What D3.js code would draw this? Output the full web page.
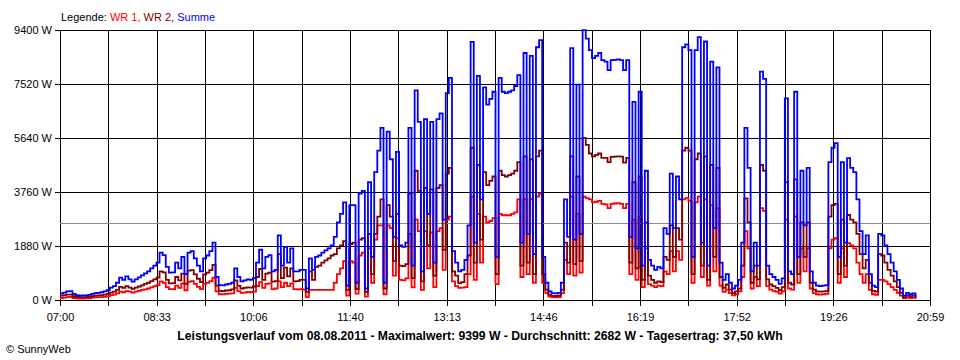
<!DOCTYPE html>
<html><head><meta charset="utf-8">
<script src="https://cdn.jsdelivr.net/npm/d3@7"></script>
<style>
body{margin:0;background:#fff}
svg{display:block}
text{font-family:"Liberation Sans",Arial,sans-serif;fill:#000}
</style>
</head><body>
<svg id="chart" width="960" height="360"></svg>
<script>
// ---- data ----
const timeLabels = ["07:00","08:33","10:06","11:40","13:13","14:46","16:19","17:52","19:26","20:59"];
const yTickValues = [0,1880,3760,5640,7520,9400];
const averageW = 2682;
const sampleStepMin = 3; // one value every 3 minutes starting 07:00
const titleText = "Leistungsverlauf vom 08.08.2011 - Maximalwert: 9399 W - Durchschnitt: 2682 W - Tagesertrag: 37,50 kWh";

const summe = [
230,260,300,310,210,170,150,160,160,180,210,240,250,270,300,340,
430,480,600,780,700,820,720,640,720,790,860,930,1000,1100,1200,1300,
1650,1560,1150,950,960,1300,1100,1500,900,1650,1700,1450,1200,1000,1450,1550,1700,2000,800,
520,510,540,560,600,1100,800,650,680,720,700,760,
1300,1750,1100,1500,1560,1000,1050,2250,1200,1850,1300,1800,1000,1000,1050,1050,400,
1450,1050,1500,1550,1650,1730,1800,1900,2200,2700,3000,3400,500,3300,
3300,600,3700,3800,400,4100,1500,4450,5200,5990,600,5860,4900,2200,5160,1900,1850,2000,
5990,1200,7300,6200,1000,6300,3000,6200,1300,6300,6500,2800,7200,7730,1700,1300,1000,1050,
1400,2600,8990,2000,7800,3500,7400,6800,7000,7250,1500,7730,
7250,7200,7250,7300,7450,7830,2000,8600,2300,8500,1600,8800,9050,1500,600,300,240,230,250,600,
3500,2200,8770,2100,7500,2300,9399,9100,8700,8420,8500,8600,8350,8300,8000,8350,8360,8380,8350,8000,
8350,2200,6900,1800,7250,1200,4500,1400,
1200,1050,1150,1100,2500,2300,4400,2500,4300,3500,8800,8900,8700,1500,8700,9150,2000,9000,1200,8300,
2500,8100,1300,700,900,600,400,500,700,2000,5990,4600,1000,2000,1200,7950,7700,1200,900,800,
700,560,750,7020,1000,900,7250,1500,
4500,2600,4600,1000,600,500,480,500,520,4800,5300,5460,1500,4800,2000,4940,4600,4450,3500,2400,
1600,2250,900,500,450,2300,2250,1900,1600,1300,1000,700,400,150,250,200,230,100
];

const wr2 = [
150,170,190,190,130,110,100,100,100,110,130,150,160,170,190,210,
260,290,350,460,420,480,430,390,430,470,510,560,600,660,720,780,
1000,960,700,580,590,800,680,920,560,1020,1040,890,740,620,890,950,1040,1220,500,
320,310,330,340,370,680,490,400,420,440,430,470,
800,1080,700,920,950,640,660,1600,760,1130,820,1100,650,660,700,700,280,
1000,700,1150,1200,1300,1380,1450,1550,1600,1800,1900,2050,350,1950,
2000,380,2100,2150,280,2300,900,2300,2900,3500,400,3300,2900,1350,3000,1200,1180,1250,
3700,760,4500,3800,650,3900,1900,3850,850,3900,4000,1750,4400,4600,1000,850,590,620,
900,1550,5300,1300,4700,2100,4450,4000,4150,4300,900,4500,
4350,4300,4350,4400,4500,4800,1200,5000,1300,4900,900,5000,5200,900,360,180,145,140,150,360,
2000,1300,5000,1250,4300,1350,5640,5400,5100,5000,5050,5100,4950,4950,4800,4980,4990,5000,4990,4780,
4950,1300,4100,1100,4300,700,2700,850,
700,600,650,620,1500,1400,2600,1500,2500,2100,5200,5300,5200,900,4900,5100,1200,5000,700,4700,
1500,4600,800,420,540,360,240,300,400,1200,3540,2700,600,1200,720,4700,4500,720,540,480,
420,340,450,4100,600,540,4200,900,
2700,1500,2700,600,360,300,290,300,310,2900,3300,3350,900,2800,1200,2960,2800,2700,2300,1600,
1100,1400,600,320,290,1600,1550,1300,1050,850,650,450,250,90,160,130,150,60
];

const wr1 = [
70,80,100,110,70,60,50,50,60,60,80,90,100,100,110,130,
170,190,230,290,270,310,290,260,290,320,350,370,400,440,480,520,
650,600,450,380,380,500,420,580,340,630,660,560,460,380,560,600,660,780,300,
200,200,210,220,230,420,310,250,260,280,270,290,
480,620,420,560,580,380,400,650,450,600,480,580,380,370,380,360,100,
350,350,350,350,350,350,350,350,600,900,1100,1350,150,1350,
1300,220,1550,1650,120,1800,600,2100,2600,2600,200,2600,2500,850,2150,700,680,750,
2300,440,2800,2400,350,2400,1100,2350,450,2400,2500,1050,2800,2900,650,480,420,430,
450,900,3600,700,3000,1300,2900,2700,2750,2850,550,3000,
2950,2950,2950,3000,3050,3500,800,3500,900,3500,600,3600,3700,600,240,120,95,90,100,240,
1400,900,3600,850,3000,950,3600,3550,3500,3400,3420,3450,3350,3330,3200,3350,3360,3370,3350,3200,
3350,900,2800,700,2900,450,1800,550,
500,450,500,480,1000,900,1700,1000,1700,1400,3500,3550,3450,600,3400,3600,800,3500,500,3300,
1000,3200,500,280,360,240,160,200,300,800,2400,1800,400,800,480,3200,3100,480,360,320,
280,220,300,2800,400,360,2900,600,
1800,1000,1800,400,240,200,190,200,210,1800,2100,2150,600,1800,800,1980,1900,1800,1300,900,
600,900,350,200,180,700,700,650,550,450,350,250,150,60,90,70,80,40
];

// ---- chart ----
const svg = d3.select("#chart");
const L = 60, R = 930, T = 30, B = 300;
const totalMin = 839;
const x = d3.scaleLinear().domain([0, totalMin]).range([L, R]);
const y = d3.scaleLinear().domain([0, 9400]).range([B, T]);
const times = summe.map((_, i) => i * sampleStepMin);
const gridTimes = d3.range(19).map(k => k * totalMin / 18);

// grid
const grid = svg.append("g").attr("shape-rendering", "crispEdges");
grid.selectAll("line.v").data(gridTimes).join("line")
  .attr("x1", d => Math.round(x(d)) + 0.5).attr("x2", d => Math.round(x(d)) + 0.5)
  .attr("y1", T).attr("y2", B).attr("stroke", "#000").attr("stroke-width", 1);
grid.selectAll("line.h").data(yTickValues).join("line")
  .attr("x1", L).attr("x2", R + 1)
  .attr("y1", d => Math.round(y(d)) + 0.5).attr("y2", d => Math.round(y(d)) + 0.5)
  .attr("stroke", "#000").attr("stroke-width", 1.4);
grid.append("line")
  .attr("x1", L).attr("x2", R)
  .attr("y1", Math.round(y(averageW)) + 0.5).attr("y2", Math.round(y(averageW)) + 0.5)
  .attr("stroke", "#8c8c8c").attr("stroke-width", 1);

// axes
const xAxis = d3.axisBottom(x).tickValues(gridTimes).tickSize(6).tickPadding(7)
  .tickFormat((d, k) => k % 2 === 0 ? timeLabels[k / 2] : "");
const gx = svg.append("g").attr("transform", `translate(0,${B})`).call(xAxis);
gx.select(".domain").remove();
gx.selectAll(".tick line").attr("stroke", "#000").attr("shape-rendering", "crispEdges");
gx.selectAll(".tick text").attr("font-size", 11).attr("font-family", "Liberation Sans, Arial, sans-serif").attr("fill", "#000");

const yAxis = d3.axisLeft(y).tickValues(yTickValues).tickSize(5).tickPadding(3)
  .tickFormat(d => d + " W");
const gy = svg.append("g").attr("transform", `translate(${L},0)`).call(yAxis);
gy.select(".domain").remove();
gy.selectAll(".tick line").attr("stroke", "#000").attr("stroke-width", 1.4).attr("shape-rendering", "crispEdges");
gy.selectAll(".tick text").attr("font-size", 11).attr("font-family", "Liberation Sans, Arial, sans-serif").attr("fill", "#000");

// series
const series = [
  {name: "WR 1", values: wr1, color: "#ff0000"},
  {name: "WR 2", values: wr2, color: "#800000"},
  {name: "Summe", values: summe, color: "#0000ff"}
];
const line = d3.line().x((d, i) => x(times[i])).y(d => y(d)).curve(d3.curveStepAfter);
svg.append("g").selectAll("path").data(series).join("path")
  .attr("d", s => line(s.values))
  .attr("fill", "none").attr("stroke", s => s.color).attr("stroke-width", 1.8)
  .attr("stroke-linejoin", "miter");

// legend
const lg = svg.append("text").attr("x", 61).attr("y", 21).attr("font-size", 11);
lg.append("tspan").text("Legende: ").attr("fill", "#000");
series.forEach((s, i) => {
  lg.append("tspan").text(s.name + (i < series.length - 1 ? ", " : "")).attr("fill", s.color);
});

// title
svg.append("text").attr("x", 480).attr("y", 340).attr("text-anchor", "middle")
  .attr("font-size", 12.2).attr("font-weight", "bold").text(titleText);

// copyright
svg.append("text").attr("x", 6).attr("y", 353).attr("font-size", 11).text("\u00A9 SunnyWeb");
</script>
</body></html>
